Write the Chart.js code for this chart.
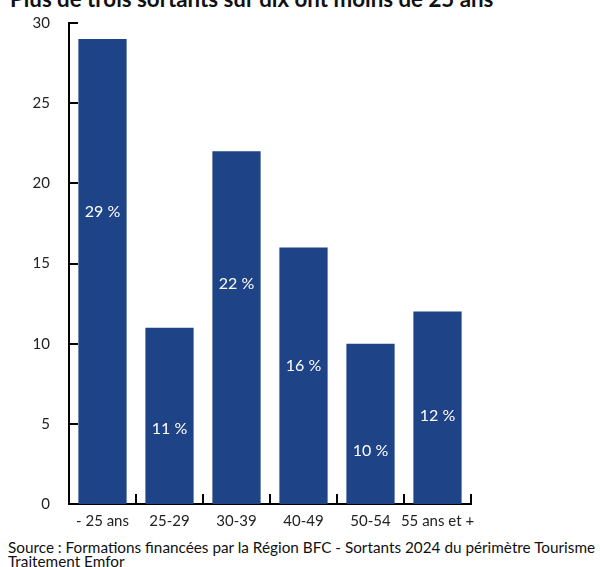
<!DOCTYPE html>
<html lang="fr">
<head>
<meta charset="UTF-8">
<title>Sortants par âge</title>
<script src="https://cdn.jsdelivr.net/npm/chart.js"></script>
<style>
  html, body { margin: 0; padding: 0; background: #fff; }
  body { width: 600px; height: 567px; position: relative; overflow: hidden; font-family: Lato, "Open Sans", sans-serif; }
  #titre { position: absolute; left: 10px; top: -15px; font: bold 22.3px Lato, sans-serif; color: #111; white-space: nowrap; }
  #zone { position: absolute; left: 0; top: -5px; width: 600px; height: 537px; }
  #source { position: absolute; left: 8px; top: 540px; font-size: 15.3px; line-height: 14px; color: #111; white-space: nowrap; }
</style>
</head>
<body>
<div id="titre">Plus de trois sortants sur dix ont moins de 25 ans</div>
<div id="zone"><canvas id="ageChart"></canvas></div>
<div id="source">Source : Formations financées par la Région BFC - Sortants 2024 du périmètre Tourisme<br>Traitement Emfor</div>

<script>
// tranches d'âge et part des sortants (%)
const tranches = ['- 25 ans', '25-29', '30-39', '40-49', '50-54', '55 ans et +'];
const parts = [29, 11, 22, 16, 10, 12];
const graduations = [0, 5, 10, 15, 20, 25, 30];
// hauteur (en unités de l'axe) où l'étiquette est posée dans chaque barre
const hauteurEtiquette = [18.2, 4.7, 13.7, 8.6, 3.3, 5.5];

const bleu = '#1e4387';

// petites graduations tournées vers l'intérieur + étiquettes dans les barres
const decor = {
  id: 'decor',
  afterDatasetsDraw(chart) {
    const ctx = chart.ctx;
    const x = chart.scales.x, y = chart.scales.y;
    const a = chart.chartArea;
    ctx.save();
    ctx.strokeStyle = '#000';
    ctx.lineWidth = 2;
    ctx.beginPath();
    graduations.forEach(v => {
      const py = Math.round(y.getPixelForValue(v));
      ctx.moveTo(a.left, py);
      ctx.lineTo(a.left + 9, py);
    });
    const n = tranches.length;
    for (let i = 1; i <= n; i++) {
      const px = i < n ? (x.getPixelForValue(i - 1) + x.getPixelForValue(i)) / 2 : a.right;
      ctx.moveTo(Math.round(px), a.bottom);
      ctx.lineTo(Math.round(px), a.bottom - 10);
    }
    ctx.stroke();

    const meta = chart.getDatasetMeta(0);
    ctx.fillStyle = '#fff';
    ctx.font = '16px Lato, sans-serif';
    ctx.textAlign = 'center';
    ctx.textBaseline = 'middle';
    meta.data.forEach((bar, i) => {
      ctx.fillText(parts[i] + ' %', bar.x, y.getPixelForValue(hauteurEtiquette[i]));
    });
    ctx.restore();
  }
};

new Chart(document.getElementById('ageChart'), {
  type: 'bar',
  data: {
    labels: tranches,
    datasets: [{
      data: parts,
      backgroundColor: bleu,
      borderWidth: 0,
      categoryPercentage: 0.72,
      barPercentage: 1
    }]
  },
  options: {
    responsive: true,
    maintainAspectRatio: false,
    animation: false,
    layout: { padding: { top: 18, right: 129, left: 0, bottom: 0 } },
    plugins: { legend: { display: false }, tooltip: { enabled: false } },
    scales: {
      x: {
        grid: { display: false, drawTicks: false },
        border: { display: true, color: '#000', width: 2 },
        ticks: { color: '#222', font: { family: 'Lato', size: 15 }, padding: 8, maxRotation: 0, autoSkip: false },
        afterFit(s) { s.height = 28; }
      },
      y: {
        min: 0,
        max: 30,
        afterBuildTicks(s) { s.ticks = graduations.map(v => ({ value: v })); },
        grid: { display: false, drawTicks: false },
        border: { display: true, color: '#000', width: 2 },
        ticks: { color: '#222', font: { family: 'Lato', size: 15 }, padding: 19 },
        afterFit(s) { s.width = 69; }
      }
    }
  },
  plugins: [decor]
});
</script>
</body>
</html>
